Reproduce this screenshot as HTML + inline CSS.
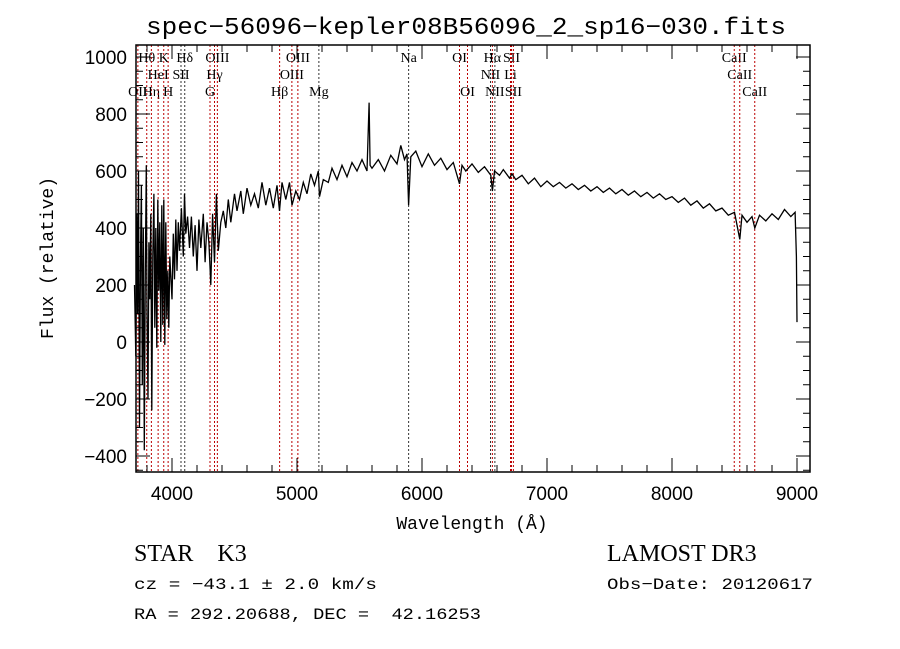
<!DOCTYPE html>
<html><head><meta charset="utf-8"><style>
html,body{margin:0;padding:0;background:#fff;width:900px;height:649px;overflow:hidden}
svg{display:block}
</style></head><body>
<svg id="c" width="900" height="649" xmlns="http://www.w3.org/2000/svg"></svg>
<script>
const waves=[3700,3710,3718,3725,3732,3740,3748,3755,3762,3770,3778,3786,3794,3800,3808,3815,3822,3830,3838,3846,3855,3862,3870,3878,3886,3894,3902,3910,3918,3926,3934,3942,3950,3958,3966,3974,3982,4000,4010,4020,4030,4040,4050,4060,4075,4090,4100,4110,4125,4140,4155,4170,4185,4200,4215,4230,4250,4265,4280,4295,4310,4325,4340,4355,4370,4390,4410,4430,4450,4470,4500,4520,4550,4570,4600,4630,4660,4690,4720,4750,4780,4810,4840,4860,4880,4910,4940,4960,4990,5020,5050,5080,5110,5140,5170,5180,5210,5250,5280,5320,5360,5400,5440,5480,5520,5560,5577,5585,5600,5650,5700,5750,5800,5830,5860,5880,5893,5910,5950,6000,6050,6100,6150,6200,6250,6300,6320,6350,6400,6450,6500,6550,6563,6580,6620,6650,6700,6720,6750,6800,6850,6900,6950,7000,7050,7100,7150,7200,7250,7300,7350,7400,7450,7500,7550,7600,7650,7700,7750,7800,7850,7900,7950,8000,8050,8100,8150,8200,8250,8300,8350,8400,8450,8500,8542,8560,8600,8640,8662,8700,8750,8800,8850,8900,8950,8985,8995,9000];
const flux=[200,-50,450,100,600,-300,300,550,-150,400,-380,250,620,100,-200,350,150,450,-240,300,520,50,400,-20,500,180,420,0,480,60,500,-10,420,80,250,50,300,150,380,220,430,250,420,320,470,300,520,380,440,330,440,300,410,250,430,330,450,280,420,350,200,450,280,520,320,420,460,400,500,420,520,460,530,450,540,480,520,470,560,480,540,470,550,460,560,500,560,480,530,500,560,520,590,550,600,510,570,560,610,570,620,580,630,600,640,600,840,620,610,640,600,655,625,690,640,660,480,650,670,615,660,620,645,605,630,555,620,600,625,595,615,585,530,600,585,605,575,590,570,585,555,575,545,565,545,560,540,555,535,550,530,545,525,540,520,535,515,530,510,525,505,520,500,510,490,505,480,495,470,485,460,470,445,455,360,445,420,440,400,445,425,450,430,465,440,455,300,70];
const lineNames=["OII","Hθ","Hη","HeI","K","H","SII","Hδ","G","Hγ","OIII","Hβ","OIII","OIII","Mg","Na","OI","OI","NII","Hα","NII","Li","SII","SII","CaII","CaII","CaII"];
const lineWaves=[3727,3798,3835,3889,3934,3969,4072,4102,4304,4340,4363,4861,4959,5007,5175,5893,6300,6364,6548,6563,6583,6708,6716,6731,8498,8542,8662];
const xTicks=[4000,5000,6000,7000,8000,9000];
const yTicks=[-400,-200,0,200,400,600,800,1000];
const NS="http://www.w3.org/2000/svg",svg=document.getElementById('c');
const L=136,R=810,T=45,B=472;
const xs=w=>172+(w-4000)*0.125;
const ys=f=>342-f*0.285;
function mk(t,a,p){const e=document.createElementNS(NS,t);for(const k in a)e.setAttribute(k,a[k]);(p||svg).appendChild(e);return e;}
const labRow=[2,0,2,1,0,2,1,0,2,1,0,2,1,0,2,0,0,2,1,0,2,1,0,2,0,1,2];
const labY=[62,79,96];
const blackSet=[6,7,14,15,18,20];
lineWaves.forEach((w,i)=>{
 const col=blackSet.includes(i)?'#333':'#b00';
 const l=mk('line',{x1:xs(w),x2:xs(w),y1:T,y2:B,stroke:col,'stroke-width':1,'stroke-dasharray':'2,2'});
 
 
 const t=mk('text',{x:xs(w),y:labY[labRow[i]],'text-anchor':'middle',style:'font-family:"Liberation Serif",serif;font-size:14px'});
 t.textContent=lineNames[i];
 
 
});
let d='';waves.forEach((w,i)=>{d+=(i?'L':'M')+xs(w).toFixed(1)+','+ys(flux[i]).toFixed(1);});
const p=mk('path',{d:d,fill:'none',stroke:'#000','stroke-width':1.3});


const f=mk('rect',{x:L,y:T,width:R-L,height:B-T,fill:'none',stroke:'#000','stroke-width':1.5});


for(let w=3800;w<=9100;w+=200){const big=w%1000===0;const h=big?14:7;
 mk('line',{x1:xs(w),x2:xs(w),y1:B,y2:B-h,stroke:'#000'});mk('line',{x1:xs(w),x2:xs(w),y1:T,y2:T+h,stroke:'#000'});}
for(let v=-450;v<=1000;v+=50){const big=v%200===0;const h=big?14:7;
 mk('line',{x1:L,x2:L+h,y1:ys(v),y2:ys(v),stroke:'#000'});mk('line',{x1:R,x2:R-h,y1:ys(v),y2:ys(v),stroke:'#000'});}
const SANS='font-family:"Liberation Sans",sans-serif;';
const MONO='font-family:"Liberation Mono",monospace;';
const SERIF='font-family:"Liberation Serif",serif;';
xTicks.forEach(w=>{const t=mk('text',{x:xs(w),y:500,'text-anchor':'middle',style:SANS+'font-size:19px'});t.textContent=w;
 
 });
yTicks.forEach(v=>{const t=mk('text',{x:127,y:ys(v)+7,'text-anchor':'end',style:SANS+'font-size:19px'});t.textContent=v<0?'\u2212'+Math.abs(v):v;
 
 });
function txt(s,x,y,style,name,extra){const t=mk('text',Object.assign({x:x,y:y,style:style},extra||{}));t.textContent=s;
 
 return t;}
txt('spec\u221256096\u2212kepler08B56096_2_sp16\u2212030.fits',466,34,MONO+'font-size:24px','chart-title',{'text-anchor':'middle','textLength':640,'lengthAdjust':'spacingAndGlyphs'});
txt('Wavelength (\u00c5)',472,529,MONO+'font-size:18px','x-axis-title',{'text-anchor':'middle'});
txt('Flux (relative)',0,0,MONO+'font-size:18px','y-axis-title',{'text-anchor':'middle','transform':'translate(53,258) rotate(-90)'});
txt('STAR    K3',134,561,SERIF+'font-size:24px;white-space:pre','object-class');
txt('LAMOST DR3',607,561,SERIF+'font-size:24px','survey-label');
txt('cz = \u221243.1 \u00b1 2.0 km/s',134,589,MONO+'font-size:16px','redshift-text',{'textLength':243,'lengthAdjust':'spacingAndGlyphs'});
txt('Obs\u2212Date: 20120617',607,589,MONO+'font-size:16px','obs-date',{'textLength':206,'lengthAdjust':'spacingAndGlyphs'});
txt('RA = 292.20688, DEC =  42.16253',134,619,MONO+'font-size:16px;white-space:pre','coordinates-text',{'textLength':347,'lengthAdjust':'spacingAndGlyphs'});
</script>
</body></html>
